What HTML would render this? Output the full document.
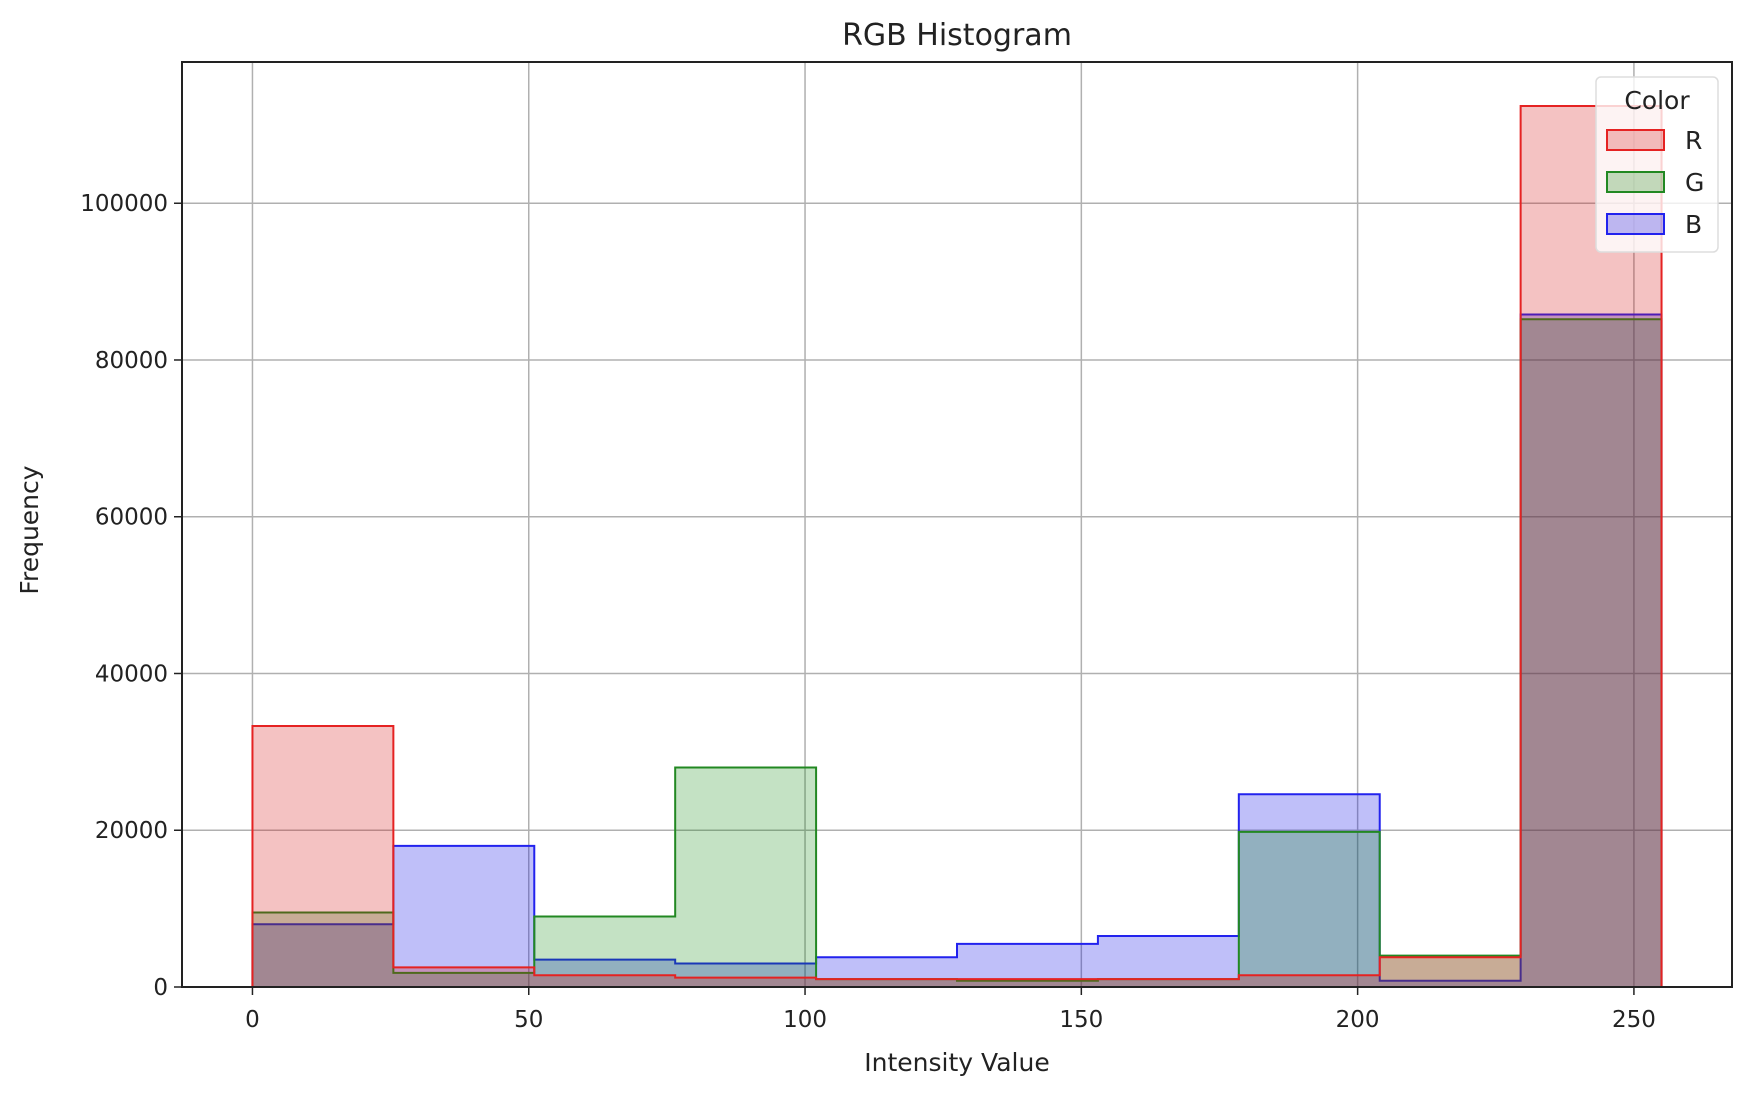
<!DOCTYPE html>
<html><head><meta charset="utf-8"><style>
html,body{margin:0;padding:0;background:#fff;}
svg{display:block;font-family:"DejaVu Sans","Liberation Sans",sans-serif;}
</style></head><body>
<svg id="chart" width="1758" height="1098" viewBox="0 0 1758 1098">
<text x="957" y="45" font-size="30" text-anchor="middle" fill="#222">RGB Histogram</text>
<g id="grid"></g>
<g id="bars"></g>
<g id="axes"></g>
<text x="957" y="1071" font-size="25" text-anchor="middle" fill="#222">Intensity Value</text>
<text transform="translate(38,530) rotate(-90)" font-size="25" text-anchor="middle" fill="#222">Frequency</text>
<g>
<rect x="1596" y="77" width="122" height="175" rx="5" fill="rgba(255,255,255,0.8)" stroke="#ddd" stroke-width="1.5"/>
<text x="1657" y="109" font-size="25" text-anchor="middle" fill="#222">Color</text>
<g><rect x="1607" y="130" width="57" height="20" fill="rgba(210,10,10,0.25)" stroke="#e52222" stroke-width="2"/><text x="1685" y="149" font-size="25" fill="#222">R</text></g>
<g><rect x="1607" y="172" width="57" height="20" fill="rgba(0,128,0,0.23)" stroke="#228822" stroke-width="2"/><text x="1685" y="191" font-size="25" fill="#222">G</text></g>
<g><rect x="1607" y="214" width="57" height="20" fill="rgba(0,0,230,0.25)" stroke="#2222ee" stroke-width="2"/><text x="1685" y="233" font-size="25" fill="#222">B</text></g>
</g>
</svg>
<script>
const binEdges = [0,25.5,51,76.5,102,127.5,153,178.5,204,229.5,255];
const rValues = [33300,2500,1500,1200,1000,1000,1000,1500,3800,112400];
const gValues = [9500,1800,9000,28000,1000,800,1000,19800,4000,85200];
const bValues = [8000,18000,3500,3000,3800,5500,6500,24600,800,85800];
const xTicks = [0,50,100,150,200,250];
const yTicks = [0,20000,40000,60000,80000,100000];

const L=182,R=1732,T=62,B=987;
const xMin=-12.75,xMax=267.75,yMax=Math.max(...rValues,...gValues,...bValues)*1.05;
const xs=v=>L+(v-xMin)/(xMax-xMin)*(R-L);
const ys=v=>B-v/yMax*(B-T);
const NS='http://www.w3.org/2000/svg';
function mk(tag,attrs,parent){const e=document.createElementNS(NS,tag);for(const k in attrs)e.setAttribute(k,attrs[k]);parent.appendChild(e);return e;}
const grid=document.getElementById('grid'),bars=document.getElementById('bars'),axes=document.getElementById('axes');
xTicks.forEach(t=>{
  const l=mk('line',{x1:xs(t),x2:xs(t),y1:T,y2:B,stroke:'#b0b0b0','stroke-width':1.5},grid);
  
  
  const tk=mk('line',{x1:xs(t),x2:xs(t),y1:B,y2:B+8,stroke:'#222','stroke-width':1.5},axes);
  
  
  const tx=mk('text',{x:xs(t),y:B+40,'font-size':23,'text-anchor':'middle',fill:'#222'},axes);
  tx.textContent=t;
  
  
});
yTicks.forEach(t=>{
  const l=mk('line',{x1:L,x2:R,y1:ys(t),y2:ys(t),stroke:'#b0b0b0','stroke-width':1.5},grid);
  
  
  const tk=mk('line',{x1:L-8,x2:L,y1:ys(t),y2:ys(t),stroke:'#222','stroke-width':1.5},axes);
  
  
  const tx=mk('text',{x:L-14,y:ys(t)+8,'font-size':23,'text-anchor':'end',fill:'#222'},axes);
  tx.textContent=t;
  
  
});
const series=[['b',bValues,'rgba(0,0,230,0.25)','#2222ee'],['g',gValues,'rgba(0,128,0,0.23)','#228822'],['r',rValues,'rgba(210,10,10,0.25)','#e52222']];
function stepPath(vals){
  let d='M'+xs(binEdges[0])+','+ys(0);
  vals.forEach((v,i)=>{d+=' L'+xs(binEdges[i])+','+ys(v)+' L'+xs(binEdges[i+1])+','+ys(v);});
  d+=' L'+xs(binEdges[binEdges.length-1])+','+ys(0);
  return d;
}
series.forEach(([n,vals,fill,line])=>{
  const p=mk('path',{d:stepPath(vals)+' Z',fill:fill,stroke:'none'},bars);
  
  
  const s=mk('path',{d:stepPath(vals),fill:'none',stroke:line,'stroke-width':2},bars);
  
  
});
const frame=mk('rect',{x:L,y:T,width:R-L,height:B-T,fill:'none',stroke:'#222','stroke-width':2},axes);


</script>
</body></html>
